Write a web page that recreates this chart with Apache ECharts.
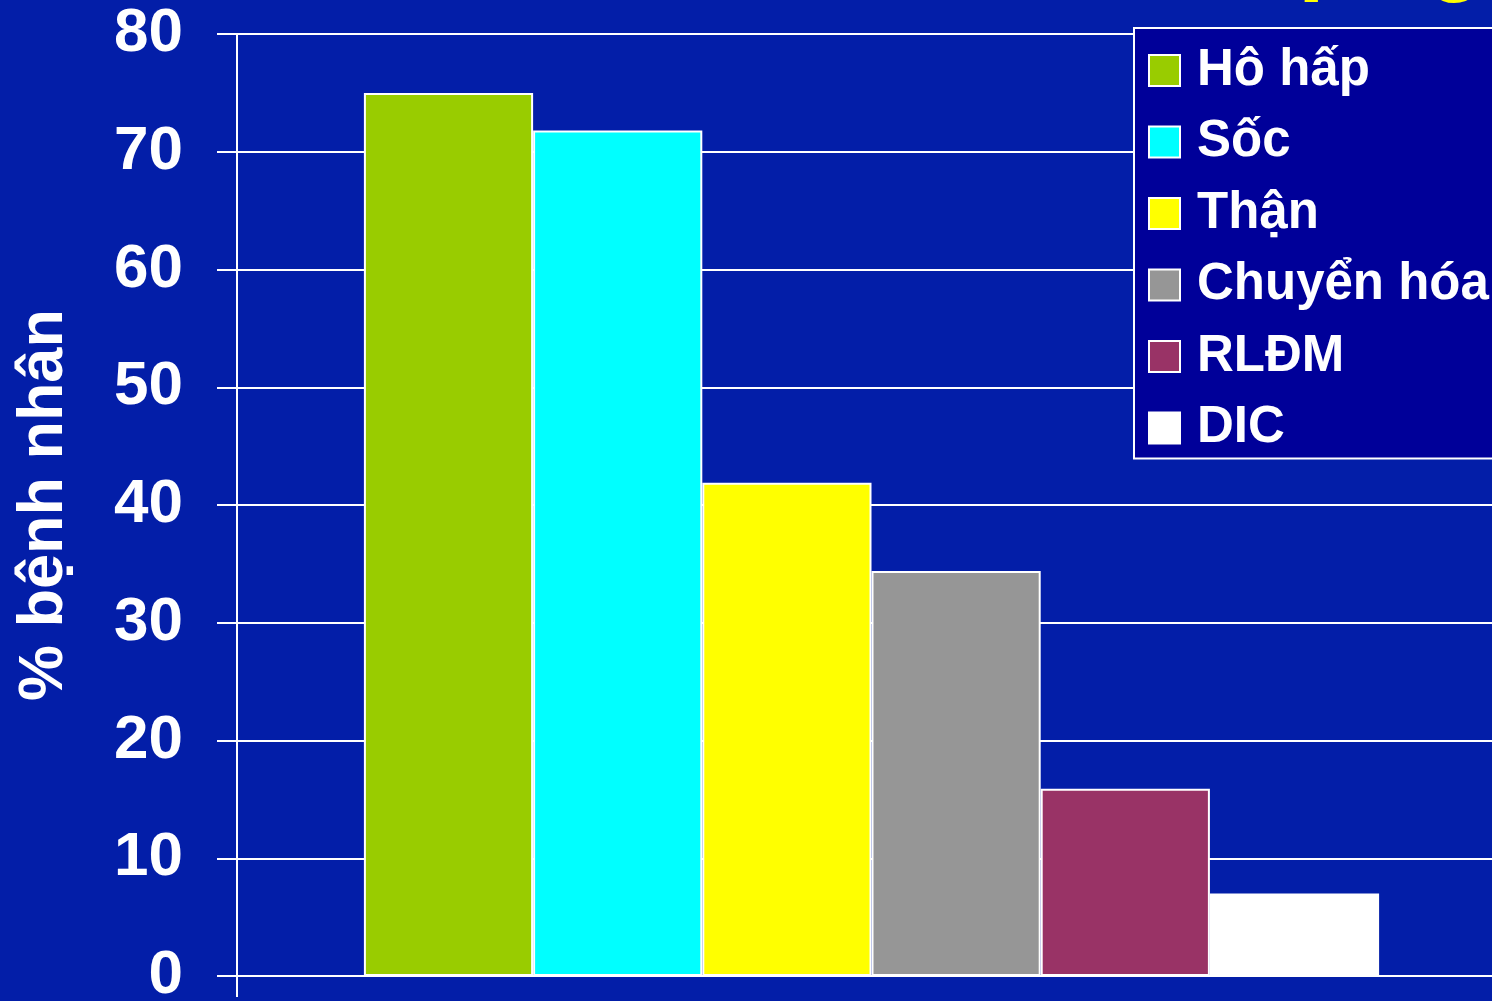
<!DOCTYPE html>
<html>
<head>
<meta charset="utf-8">
<script src="https://cdn.jsdelivr.net/npm/echarts@6/dist/echarts.min.js"></script>
<style>
html,body{margin:0;padding:0;background:#031EA8;overflow:hidden;}
#c{width:1492px;height:1001px;}
</style>
</head>
<body>
<div id="c"></div>
<script>
const categories = [''];
const seriesNames = ['Hô hấp', 'Sốc', 'Thận', 'Chuyển hóa', 'RLĐM', 'DIC'];
const seriesValues = [75.0, 71.8, 41.9, 34.4, 15.9, 7.0];
const seriesColors = ['#99CC00', '#00FFFF', '#FFFF00', '#969696', '#993366', '#FFFFFF'];
const yTicks = [0, 10, 20, 30, 40, 50, 60, 70, 80];
const yAxisName = '% bệnh nhân';

const chart = echarts.init(document.getElementById('c'), null, {renderer: 'canvas'});
const FONT = '"Liberation Sans", Arial, sans-serif';

const series = seriesNames.map((n, i) => ({
  name: n,
  type: 'bar',
  data: [seriesValues[i]],
  barGap: 0,
  barCategoryGap: '20%',
  itemStyle: {color: seriesColors[i], borderColor: '#FFFFFF', borderWidth: 2},
  emphasis: {disabled: true},
  animation: false
}));

chart.setOption({
  backgroundColor: '#031EA8',
  animation: false,
  grid: {left: 237, top: 34, bottom: 25, right: -14, containLabel: false, outerBoundsMode: 'none'},
  xAxis: {
    type: 'category',
    data: categories,
    axisLine: {show: true, lineStyle: {color: '#FFFFFF', width: 2}},
    axisTick: {show: true, length: 21, lineStyle: {color: '#FFFFFF', width: 2}},
    axisLabel: {show: false}
  },
  yAxis: {
    type: 'value',
    min: yTicks[0],
    max: yTicks[yTicks.length - 1],
    interval: 10,
    name: yAxisName,
    nameLocation: 'middle',
    nameGap: 161,
    nameTextStyle: {color: '#FFFFFF', fontSize: 63, fontWeight: 'bold', fontFamily: FONT},
    axisLine: {show: true, lineStyle: {color: '#FFFFFF', width: 2}},
    axisTick: {show: true, length: 20, lineStyle: {color: '#FFFFFF', width: 2}},
    splitLine: {show: true, lineStyle: {color: '#FFFFFF', width: 2}},
    axisLabel: {color: '#FFFFFF', fontSize: 62, fontWeight: 'bold', fontFamily: FONT, margin: 54}
  },
  legend: {
    orient: 'vertical',
    left: 1134,
    top: 28,
    data: seriesNames,
    backgroundColor: '#000099',
    borderColor: '#FFFFFF',
    borderWidth: 2,
    padding: [17, 60, 5, 14],
    itemWidth: 31,
    itemHeight: 31,
    itemGap: 20.5,
    icon: 'rect',
    selectedMode: false,
    textStyle: {color: '#FFFFFF', fontSize: 51, fontWeight: 'bold', fontFamily: FONT, padding: [0, 0, 0, 12]}
  },
  graphic: [
    {type: 'text', left: 1298, top: -72, silent: true,
     style: {text: 'l', fill: '#FFFF00', font: 'bold 96px ' + FONT}},
    {type: 'text', left: 1425, top: -72, silent: true,
     style: {text: 'o', fill: '#FFFF00', font: 'bold 96px ' + FONT}}
  ],
  series: series
});
</script>
</body>
</html>
